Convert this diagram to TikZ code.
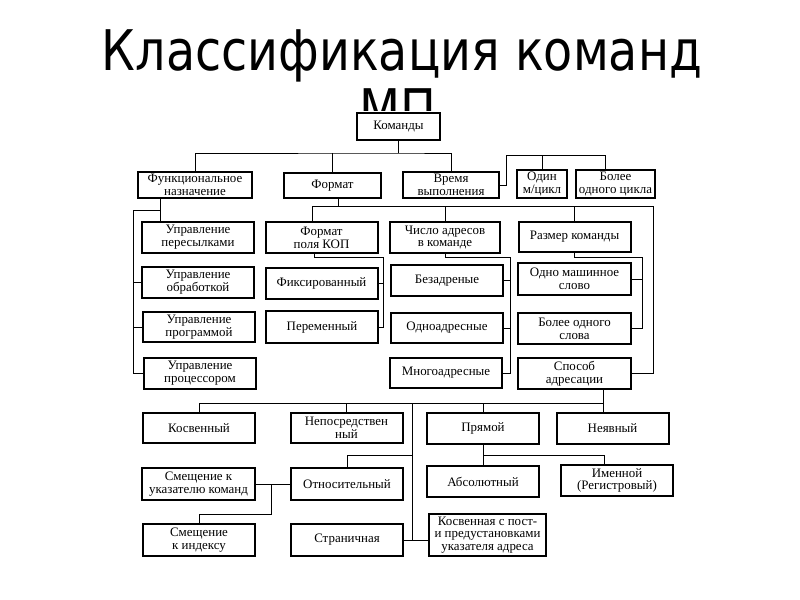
\documentclass[tikz,border=0pt]{standalone}
\usepackage{fontspec}
\setmainfont{Liberation Serif}
\newfontfamily\titlefont[FakeStretch=0.85]{DejaVu Sans}

\begin{document}
\begin{tikzpicture}
  [x=0.75pt,y=-0.75pt,line width=0.6pt,
   cmd/.style={draw,line width=1.5pt,fill=white,align=center,inner sep=0.5pt,
     minimum width=84pt,minimum height=23.25pt,font=\fontsize{9.7}{9.6}\selectfont}]
  \useasboundingbox (0,0) rectangle (800,600);

  \node[anchor=base,font=\titlefont\fontsize{42}{42}\selectfont] (t1) at (402,70) {Классификация команд};
  \begin{scope}
    \clip (0,0) rectangle (800,110);
    \node[anchor=base,font=\titlefont\fontsize{42}{42}\selectfont] (t2) at (398,129) {МП};
  \end{scope}

  \node[cmd,minimum width=62pt,minimum height=20pt] (kom) at (398.5,126.5) {Команды};
  \node[cmd,minimum width=85.5pt,minimum height=19.5pt] (func) at (195,185) {Функциональное\\назначение};
  \node[cmd,minimum width=72.75pt,minimum height=19pt] (format) at (332.5,185.5) {Формат};
  \node[cmd,minimum width=72pt,minimum height=19.5pt] (vremya) at (451,185) {Время\\выполнения};
  \node[cmd,minimum width=37.5pt,minimum height=21pt,inner sep=0pt] (odin) at (542,184) {Один\\м/цикл};
  \node[cmd,minimum width=59.25pt,minimum height=21pt,inner sep=0pt] (bolee) at (615.5,184) {Более\\одного цикла};

  \node[cmd] (upr1) at (198,237.5) {Управление\\пересылками};
  \node[cmd] (upr2) at (198,282) {Управление\\обработкой};
  \node[cmd,minimum height=22.5pt] (upr3) at (199,327) {Управление\\программой};
  \node[cmd] (upr4) at (200,373.5) {Управление\\процессором};

  \node[cmd] (fkop) at (321.5,237.5) {Формат\\поля КОП};
  \node[cmd] (fix) at (321.5,283.5) {Фиксированный};
  \node[cmd,minimum height=24pt] (per) at (322,327) {Переменный};

  \node[cmd,minimum width=82.5pt] (chislo) at (445,237.5) {Число адресов\\в команде};
  \node[cmd] (bezadr) at (447,280.5) {Безадреные};
  \node[cmd,minimum height=22.5pt] (odnoadr) at (447,328) {Одноадресные};
  \node[cmd,minimum height=22.5pt] (mnogo) at (446,373) {Многоадресные};

  \node[cmd,minimum height=22.5pt] (razmer) at (574.5,237) {Размер команды};
  \node[cmd,minimum width=85pt,minimum height=24pt] (slovo1) at (574.5,279) {Одно машинное\\слово};
  \node[cmd,minimum width=85pt] (slovo2) at (574.5,328.5) {Более одного\\слова};
  \node[cmd,minimum width=85pt] (sposob) at (574.5,373.5) {Способ\\адресации};

  \node[cmd,minimum height=22.5pt] (kosv) at (199,428) {Косвенный};
  \node[cmd,minimum height=22.5pt] (neposr) at (346.5,428) {Непосредствен\\ный};
  \node[cmd] (pryam) at (483,428.5) {Прямой};
  \node[cmd] (neyav) at (612.5,428.5) {Неявный};

  \node[cmd,minimum width=85pt,minimum height=24pt] (smuk) at (198.5,484) {Смещение к\\указателю команд};
  \node[cmd,minimum height=24pt] (otnos) at (347,484) {Относительный};
  \node[cmd] (absol) at (483,481.5) {Абсолютный};
  \node[cmd] (imen) at (617,480.5) {Именной\\(Регистровый)};

  \node[cmd,minimum height=24pt] (smind) at (199,540) {Смещение\\к индексу};
  \node[cmd,minimum height=24pt] (stran) at (347,540) {Страничная};
  \node[cmd,minimum width=87.75pt,minimum height=31.5pt] (kospost) at (487.5,535) {Косвенная с пост-\\и предустановками\\указателя адреса};

  % top level
  \coordinate (k1) at (kom.south |- 0,153);
  \draw (kom.south) -- (k1);
  \draw (func.north) |- (k1) -| (vremya.north);
  \draw (format.north) -- (format.north |- k1);
  \draw (vremya.east) -| (506,155) -| ([xshift=-7.5pt]bolee.north);
  \draw (odin.north) -- (odin.north |- 0,155);

  % format branches
  \coordinate (f1) at (338,206);
  \draw (format.south -| f1) -- (f1);
  \draw ([xshift=-7pt]fkop.north) |- (653,206) |- (sposob.east);
  \draw (chislo.north) -- (chislo.north |- f1);
  \draw (razmer.north) -- (razmer.north |- f1);

  % functional
  \draw (func.south -| 160,0) -- (upr1.north -| 160,0);
  \draw (160,210) -| (upr4.west -| 133,0) -- (upr4.west);
  \draw (upr2.west) -- (upr2.west -| 133,0);
  \draw (upr3.west) -- (upr3.west -| 133,0);

  % format of opcode field
  \draw (fkop.south -| 314,0) |- (383,257) |- (per.east);
  \draw (fix.east) -- (fix.east -| 383,0);

  % address count
  \draw (chislo.south) |- (510,257) |- (mnogo.east);
  \draw (bezadr.east) -- (bezadr.east -| 510,0);
  \draw (odnoadr.east) -- (odnoadr.east -| 510,0);

  % size
  \draw (razmer.south) |- (642,257) |- (slovo2.east);
  \draw (slovo1.east) -- (slovo1.east -| 642,0);

  % addressing
  \coordinate (s1) at (603,403);
  \draw (sposob.south -| s1) -- (s1);
  \draw (kosv.north) |- (s1) -- (neyav.north -| s1);
  \draw (neposr.north) -- (neposr.north |- s1);
  \draw (pryam.north) -- (pryam.north |- s1);
  \draw (412,403) -- (stran.east -| 412,0);
  \draw (otnos.north) |- (412,455);
  \draw (stran.east) -- (stran.east -| kospost.west);

  \draw (pryam.south) -- (absol.north);
  \draw (pryam.south |- 0,455) -| ([xshift=-9.75pt]imen.north);

  \draw (otnos.west) -- (smuk.east);
  \draw (smuk.east -| 271,0) |- (smind.north |- 0,514) -- (smind.north);

\end{tikzpicture}
\end{document}
